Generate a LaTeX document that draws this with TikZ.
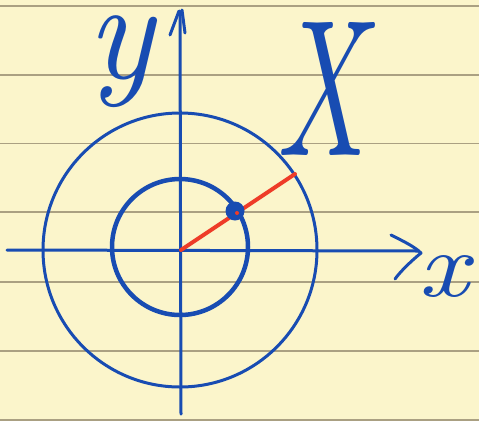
\documentclass[tikz,border=0pt]{standalone}
\usepackage{fontspec}
\usepackage{graphicx}
\definecolor{paper}{RGB}{251,245,203}
\definecolor{rulecol}{RGB}{170,160,130}
\definecolor{ink}{RGB}{24,76,178}
\definecolor{redink}{RGB}{238,60,40}
\begin{document}
\begin{tikzpicture}[x=1pt,y=-1pt,line cap=round,line join=round,
  rulestyle/.style={draw=rulecol,line width=1.2pt},
  axisline/.style={draw=ink,line width=3pt},
  thincircle/.style={draw=ink,line width=3pt},
  thickcircle/.style={draw=ink,line width=4.5pt},
  radiusline/.style={draw=redink,line width=4pt},
  hand/.style={text=ink,inner sep=0pt,outer sep=0pt}]
\fill[paper] (0,0) rectangle (479,421);
\useasboundingbox (0,0) rectangle (479,421);
\foreach \yy in {6,75,143.5,212,282,351,420}
  \draw[rulestyle] (0,\yy) -- (479,\yy);
% coordinates
\coordinate (O) at (181,250);
\coordinate (xl) at (7,250);
\coordinate (xr) at (418,251);
\coordinate (xa1) at (391,235);
\coordinate (xtip) at (421,253);
\coordinate (xa2) at (395,279);
\coordinate (yb) at (181,414);
\coordinate (yt) at (180,11);
\coordinate (ya1) at (170,35);
\coordinate (ya2) at (185,33);
\coordinate (P) at (295,174);
\coordinate (D) at (235,211);
% circles
\draw[thincircle] (180,250) circle[radius=137];
\draw[thickcircle] (180,247) circle[radius=68];
% axes
\draw[axisline] (xl) -- (xr);
\draw[axisline] (xa1) .. controls (405,242) and (415,247) .. (xtip) .. controls (410,262) and (400,272) .. (xa2);
\draw[axisline] (yb) -- (yt);
\draw[axisline] (ya1) -- (179,11);
\draw[axisline] (182,10) -- (ya2);
% radius
\draw[radiusline] (O) -- (P);
\fill[ink] (D) circle[radius=9.5];
\fill[redink] (237,213) circle[radius=2];
% labels
\node[hand] (ylab) at (121,62) {\resizebox*{66pt}{92pt}{\itshape y}};
\node[hand] (xlab) at (444,277) {\resizebox*{50pt}{42pt}{\itshape x}};
\node[hand] (Xlab) at (320,89) {\resizebox*{90pt}{133pt}{\itshape X}};
\end{tikzpicture}
\end{document}
